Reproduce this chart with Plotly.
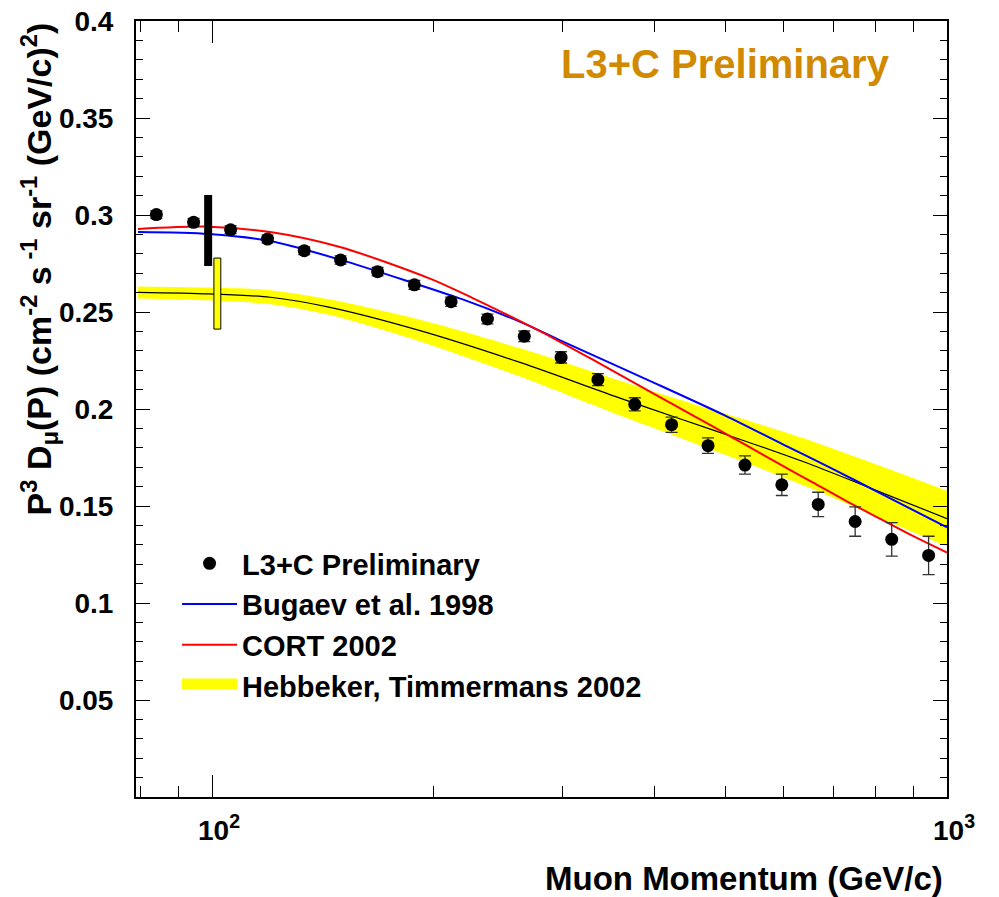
import plotly.graph_objects as go

# ---------------- data ----------------
# L3+C preliminary measurement
p_data = [84.0, 94.4, 106.0, 119.0, 133.5, 149.6, 168.0, 188.5, 211.5, 237.0, 266.0,
          298.5, 335.0, 376.0, 422.0, 473.0, 531.0, 596.0, 668.0, 750.0, 841.0, 944.0]
flux_data = [0.3002, 0.2962, 0.2924, 0.2876, 0.2816, 0.2768, 0.2708, 0.2640, 0.2553, 0.2464, 0.2375,
             0.2266, 0.2151, 0.2024, 0.1919, 0.1811, 0.1711, 0.1609, 0.1508, 0.1420, 0.1328, 0.1245]
flux_err = [0.0020, 0.0020, 0.0020, 0.0020, 0.0020, 0.0021, 0.0022, 0.0023, 0.0024, 0.0025, 0.0027,
            0.0029, 0.0031, 0.0034, 0.0039, 0.0040, 0.0047, 0.0055, 0.0063, 0.0076, 0.0086, 0.0099]

# Bugaev et al. 1998
p_bugaev = [79.3, 99.0, 120.0, 149.3, 188.4, 219.3, 265.0, 299.2, 399.6, 499.2, 598.0, 702.0, 802.0, 1000.0]
flux_bugaev = [0.2912, 0.2902, 0.2866, 0.2770, 0.2648, 0.2565, 0.2443, 0.2350, 0.2135, 0.1966,
               0.1818, 0.1688, 0.1575, 0.1390]

# CORT 2002
p_cort = [79.3, 99.0, 120.0, 149.3, 197.9, 226.3, 265.0, 290.7, 329.7, 382.4, 423.3, 480.0,
          534.4, 593.7, 656.6, 728.6, 810.2, 897.0, 1000.0]
flux_cort = [0.2928, 0.2940, 0.2912, 0.2835, 0.2672, 0.2572, 0.2445, 0.2367, 0.2254, 0.2118,
             0.2025, 0.1910, 0.1811, 0.1713, 0.1622, 0.1527, 0.1435, 0.1347, 0.1260]

# Hebbeker, Timmermans 2002 (central curve and band half-width)
p_hebb = [79.3, 99.0, 120.0, 144.7, 191.9, 262.5, 359.0, 433.0, 532.0, 656.6, 810.0, 1000.0]
flux_hebb = [0.2601, 0.2593, 0.2576, 0.2524, 0.2404, 0.2240, 0.2056, 0.1950, 0.1834, 0.1710, 0.1573, 0.1435]
hebb_halfwidth = [0.0031, 0.0033, 0.0036, 0.0040, 0.0056, 0.0073, 0.0090, 0.0098, 0.0110, 0.0123, 0.0135, 0.0144]

# normalisation uncertainty markers near 100 GeV/c
norm_black_p = [98.8, 98.8]
norm_black_flux = [0.2737, 0.3103]
norm_yellow_p = [100.6, 102.8]
norm_yellow_flux = [0.2412, 0.2778]

# axis ticks
x_major = [100, 1000]
x_major_text = ["10<sup>2</sup>", "10<sup>3</sup>"]
x_minor = [80, 90, 200, 300, 400, 500, 600, 700, 800, 900]
y_major = [0.05, 0.1, 0.15, 0.2, 0.25, 0.3, 0.35, 0.4]
y_major_text = ["0.05", "0.1", "0.15", "0.2", "0.25", "0.3", "0.35", "0.4"]
y_minor = [round(i * 0.01, 2) for i in range(1, 40) if i % 5]

FONT = "Liberation Sans, Arial, Helvetica, sans-serif"
YELLOW = "#FFFF00"

band_upper = [c + h for c, h in zip(flux_hebb, hebb_halfwidth)]
band_lower = [c - h for c, h in zip(flux_hebb, hebb_halfwidth)]

fig = go.Figure()

# Hebbeker band
fig.add_trace(go.Scatter(x=p_hebb, y=band_lower, mode="lines", line=dict(width=0, shape="spline", smoothing=0.8),
                         showlegend=False, hoverinfo="skip"))
fig.add_trace(go.Scatter(x=p_hebb, y=band_upper, mode="lines", line=dict(width=0, shape="spline", smoothing=0.8),
                         fill="tonexty", fillcolor=YELLOW, showlegend=False, hoverinfo="skip"))
fig.add_trace(go.Scatter(x=p_hebb, y=flux_hebb, mode="lines",
                         line=dict(color="black", width=1.2, shape="spline", smoothing=0.8),
                         showlegend=False))

# Bugaev and CORT curves
fig.add_trace(go.Scatter(x=p_bugaev, y=flux_bugaev, mode="lines", name="Bugaev et al. 1998",
                         line=dict(color="#0000FF", width=2, shape="spline", smoothing=0.8), legendrank=2))
fig.add_trace(go.Scatter(x=p_cort, y=flux_cort, mode="lines", name="CORT 2002",
                         line=dict(color="#FF0000", width=2, shape="spline", smoothing=0.8), legendrank=3))

# legend entry for the band
fig.add_trace(go.Scatter(x=[None], y=[None], mode="lines", fill="toself", fillcolor=YELLOW,
                         line=dict(color=YELLOW, width=20), name="Hebbeker, Timmermans 2002",
                         legendrank=4))

# normalisation bars
fig.add_trace(go.Scatter(x=norm_black_p, y=norm_black_flux, mode="lines",
                         line=dict(color="black", width=8), showlegend=False))
fig.add_trace(go.Scatter(x=[norm_yellow_p[0], norm_yellow_p[1], norm_yellow_p[1], norm_yellow_p[0], norm_yellow_p[0]],
                         y=[norm_yellow_flux[0], norm_yellow_flux[0], norm_yellow_flux[1], norm_yellow_flux[1], norm_yellow_flux[0]],
                         mode="lines", fill="toself", fillcolor=YELLOW,
                         line=dict(color="black", width=1), showlegend=False))

# data points
fig.add_trace(go.Scatter(x=p_data, y=flux_data, mode="markers", name="L3+C Preliminary",
                         marker=dict(color="black", size=13, symbol="circle"),
                         error_y=dict(type="data", array=flux_err, color="#333333", thickness=1.3, width=6),
                         legendrank=1))

axis_common = dict(showline=True, linecolor="black", linewidth=2, mirror="ticks", automargin=False,
                   ticks="inside", tickcolor="black", tickwidth=1.3, showgrid=False, zeroline=False,
                   ticklabeloverflow="allow",
                   tickfont=dict(family=FONT, size=28, color="black", weight="bold"))

fig.update_xaxes(type="log", range=[1.8966, 3.0], tickmode="array", tickvals=x_major, ticktext=x_major_text,
                 ticklen=22, ticklabelstandoff=7, ticklabelshift=7,
                 minor=dict(tickmode="array", tickvals=x_minor, ticks="inside", ticklen=11,
                            tickcolor="black", tickwidth=1.3),
                 **axis_common)
fig.update_yaxes(range=[0, 0.4], tickmode="array", tickvals=y_major, ticktext=y_major_text,
                 ticklen=14, ticklabelstandoff=15,
                 minor=dict(tickmode="array", tickvals=y_minor, ticks="inside", ticklen=7,
                            tickcolor="black", tickwidth=1.3),
                 **axis_common)

# the page adds an 8px body margin, so the figure is 8px smaller on each axis
fig.update_layout(
    width=991, height=889,
    margin=dict(l=128, r=52, t=13, b=100, autoexpand=False),
    paper_bgcolor="white", plot_bgcolor="white",
    font=dict(family=FONT, color="black"),
    legend=dict(x=0.0506, y=0.3338, xanchor="left", yanchor="top", bgcolor="rgba(0,0,0,0)",
                font=dict(family=FONT, size=29, color="black", weight="bold"),
                itemwidth=55, tracegroupgap=0, traceorder="normal"),
    annotations=[
        dict(text="L3+C Preliminary", xref="paper", yref="paper", x=0.932, y=0.9446,
             xanchor="right", yanchor="middle", showarrow=False,
             font=dict(family=FONT, size=40, color="#D18A00", weight="bold")),
        dict(text="Muon Momentum (GeV/c)", xref="paper", yref="paper", x=1.0, y=-0.1044,
             xanchor="right", yanchor="middle", xshift=-2, showarrow=False,
             font=dict(family=FONT, size=33, color="black", weight="bold")),
        dict(text="P<sup>3</sup> D<sub>μ</sub>(P) (cm<sup>-2</sup> s<sup> -1</sup> sr<sup>-1</sup> (GeV/c)<sup>2</sup>)",
             xref="paper", yref="paper", x=(38 - 136) / 811, y=1.0, xanchor="center", yanchor="top",
             textangle=-90, showarrow=False,
             font=dict(family=FONT, size=34, color="black", weight="bold")),
    ],
)

fig.write_html("out.html")
